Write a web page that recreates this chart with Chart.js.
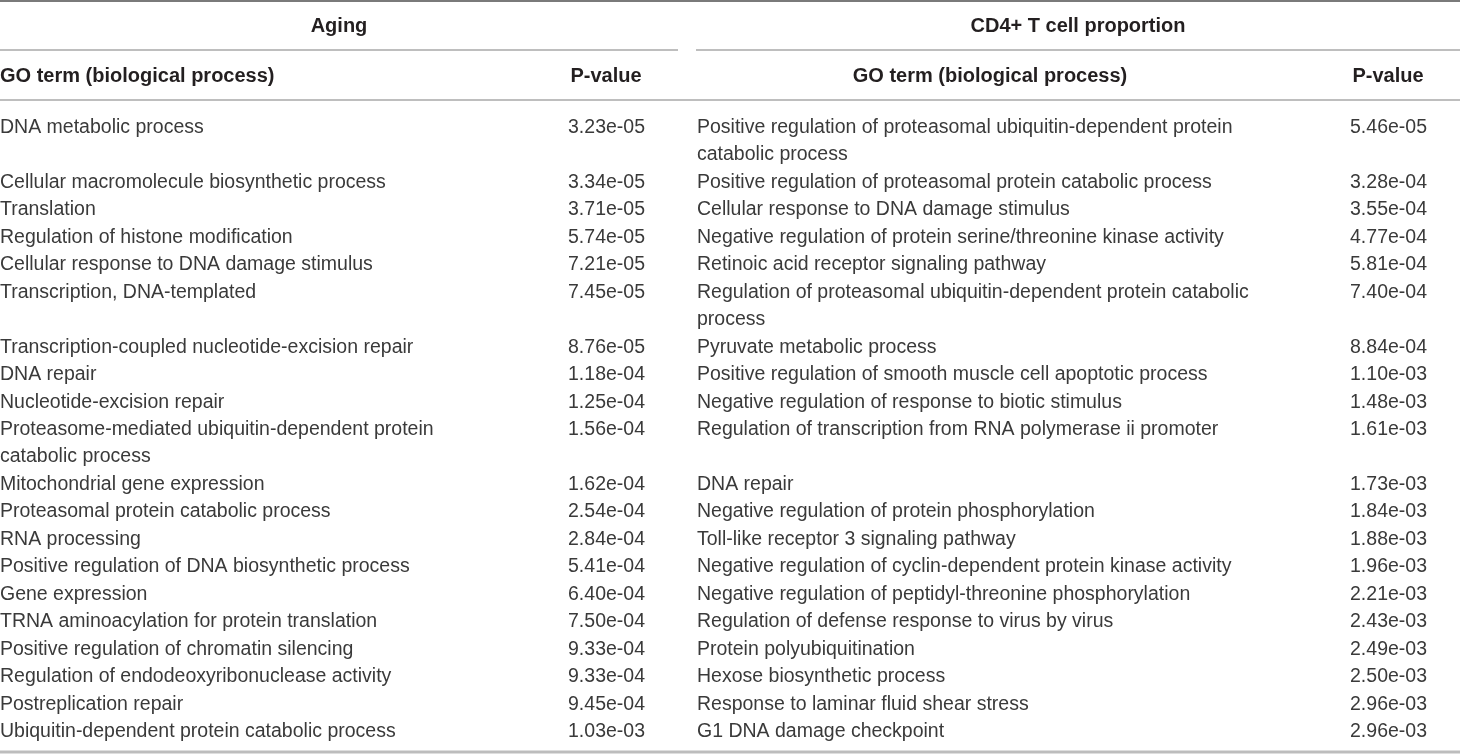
<!DOCTYPE html>
<html lang="en">
<head>
  <meta charset="UTF-8">
  <title>GO terms: Aging vs CD4+ T cell proportion</title>
  <script src="https://cdn.jsdelivr.net/npm/chart.js"></script>
  <style>
    body { margin: 0; background: #fff; }
    canvas { display: block; }
  </style>
</head>
<body>
  <canvas id="table" width="1460" height="755"></canvas>

  <script>
    const groupTitles = ["Aging", "CD4+ T cell proportion"];
    const columnTitles = ["GO term (biological process)", "P-value"];

    // "\n" marks where the original table wraps a long term
    const agingTerms = [
      "DNA metabolic process",
      "Cellular macromolecule biosynthetic process",
      "Translation",
      "Regulation of histone modification",
      "Cellular response to DNA damage stimulus",
      "Transcription, DNA-templated",
      "Transcription-coupled nucleotide-excision repair",
      "DNA repair",
      "Nucleotide-excision repair",
      "Proteasome-mediated ubiquitin-dependent protein\ncatabolic process",
      "Mitochondrial gene expression",
      "Proteasomal protein catabolic process",
      "RNA processing",
      "Positive regulation of DNA biosynthetic process",
      "Gene expression",
      "TRNA aminoacylation for protein translation",
      "Positive regulation of chromatin silencing",
      "Regulation of endodeoxyribonuclease activity",
      "Postreplication repair",
      "Ubiquitin-dependent protein catabolic process"
    ];
    const agingP = [
      "3.23e-05", "3.34e-05", "3.71e-05", "5.74e-05", "7.21e-05",
      "7.45e-05", "8.76e-05", "1.18e-04", "1.25e-04", "1.56e-04",
      "1.62e-04", "2.54e-04", "2.84e-04", "5.41e-04", "6.40e-04",
      "7.50e-04", "9.33e-04", "9.33e-04", "9.45e-04", "1.03e-03"
    ];

    const cd4Terms = [
      "Positive regulation of proteasomal ubiquitin-dependent protein\ncatabolic process",
      "Positive regulation of proteasomal protein catabolic process",
      "Cellular response to DNA damage stimulus",
      "Negative regulation of protein serine/threonine kinase activity",
      "Retinoic acid receptor signaling pathway",
      "Regulation of proteasomal ubiquitin-dependent protein catabolic\nprocess",
      "Pyruvate metabolic process",
      "Positive regulation of smooth muscle cell apoptotic process",
      "Negative regulation of response to biotic stimulus",
      "Regulation of transcription from RNA polymerase ii promoter",
      "DNA repair",
      "Negative regulation of protein phosphorylation",
      "Toll-like receptor 3 signaling pathway",
      "Negative regulation of cyclin-dependent protein kinase activity",
      "Negative regulation of peptidyl-threonine phosphorylation",
      "Regulation of defense response to virus by virus",
      "Protein polyubiquitination",
      "Hexose biosynthetic process",
      "Response to laminar fluid shear stress",
      "G1 DNA damage checkpoint"
    ];
    const cd4P = [
      "5.46e-05", "3.28e-04", "3.55e-04", "4.77e-04", "5.81e-04",
      "7.40e-04", "8.84e-04", "1.10e-03", "1.48e-03", "1.61e-03",
      "1.73e-03", "1.84e-03", "1.88e-03", "1.96e-03", "2.21e-03",
      "2.43e-03", "2.49e-03", "2.50e-03", "2.96e-03", "2.96e-03"
    ];

    // first text line of every row, counted in lines
    const rowStart = [];
    let lineCount = 0;
    agingTerms.forEach((t, i) => {
      rowStart.push(lineCount);
      lineCount += Math.max(t.split("\n").length, cd4Terms[i].split("\n").length);
    });

    const FONT = "Liberation Sans, Arial, sans-serif";
    const bodySize = 19.5;
    const headSize = 20;

    const tablePlugin = {
      id: "tableDraw",
      afterDraw(chart) {
        const { ctx, chartArea } = chart;
        const x = chart.scales.x, y = chart.scales.y;
        const px = v => x.getPixelForValue(v);
        const lineH = Math.abs(y.getPixelForValue(1) - y.getPixelForValue(0));
        const top = chartArea.top;

        function rule(x0, x1, yy, w, col) {
          ctx.save();
          ctx.strokeStyle = col;
          ctx.lineWidth = w;
          ctx.beginPath();
          ctx.moveTo(px(x0), yy);
          ctx.lineTo(px(x1), yy);
          ctx.stroke();
          ctx.restore();
        }
        function text(str, xx, yy, align, bold) {
          const size = bold ? headSize : bodySize;
          ctx.save();
          ctx.font = (bold ? "bold " : "") + size + "px " + FONT;
          ctx.fillStyle = bold ? "#231f20" : "#3a3a3a";
          ctx.textAlign = align;
          ctx.textBaseline = "alphabetic";
          ctx.fillText(str, px(xx), yy + size * 0.36);
          ctx.restore();
        }

        // header block
        rule(0, 1460, top - 111, 2, "#7a7a7a");
        text(groupTitles[0], 339, top - 87, "center", true);
        text(groupTitles[1], 1078, top - 87, "center", true);
        rule(0, 678, top - 62, 1.5, "#a8a8a8");
        rule(696, 1460, top - 62, 1.5, "#a8a8a8");
        text(columnTitles[0], 0, top - 37, "left", true);
        text(columnTitles[1], 606, top - 37, "center", true);
        text(columnTitles[0], 990, top - 37, "center", true);
        text(columnTitles[1], 1388, top - 37, "center", true);
        rule(0, 1460, top - 12, 1.5, "#a8a8a8");

        // body rows
        agingTerms.forEach((term, i) => {
          const y0 = y.getPixelForValue(rowStart[i]);
          term.split("\n").forEach((ln, k) => text(ln, 0, y0 + k * lineH, "left"));
          text(agingP[i], 645, y0, "right");
          cd4Terms[i].split("\n").forEach((ln, k) => text(ln, 697, y0 + k * lineH, "left"));
          text(cd4P[i], 1427, y0, "right");
        });

        rule(0, 1460, chartArea.bottom + 8, 3, "#bdbdbd");
      }
    };

    new Chart(document.getElementById("table"), {
      type: "scatter",
      data: { datasets: [] },
      options: {
        responsive: false,
        animation: false,
        layout: { padding: { top: 112, bottom: 11, left: 0, right: 0 } },
        plugins: { legend: { display: false }, tooltip: { enabled: false } },
        scales: {
          x: { type: "linear", min: 0, max: 1460, display: false },
          y: { type: "linear", min: -0.5, max: lineCount - 0.5, reverse: true, display: false }
        }
      },
      plugins: [tablePlugin]
    });
  </script>
</body>
</html>
